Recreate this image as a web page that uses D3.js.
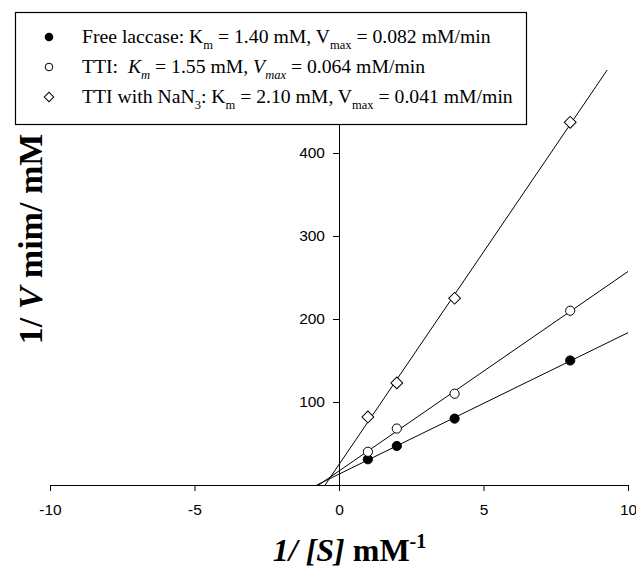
<!DOCTYPE html>
<html>
<head>
<meta charset="utf-8">
<script src="https://cdn.jsdelivr.net/npm/d3@7"></script>
<style>
body{margin:0;background:#fff;}
svg{display:block;}
text{white-space:pre;}
</style>
</head>
<body>
<svg id="chart" width="636" height="567"></svg>
<script>
const invS = [1, 2, 4, 8];
const freeInvV = [31, 47, 80, 150];
const ttiInvV = [40, 68, 110, 210];
const nan3InvV = [82, 123, 225, 437];
const xTicks = [-10, -5, 0, 5, 10];
const yTicks = [100, 200, 300, 400];

const svg = d3.select("#chart");
const x = d3.scaleLinear().domain([-10, 10]).range([50, 628]);
const y = d3.scaleLinear().domain([0, 500]).range([485, 70]);

function fit(xs, ys) {
  const mx = d3.mean(xs), my = d3.mean(ys);
  let sxy = 0, sxx = 0;
  xs.forEach((v, i) => { sxy += (v - mx) * (ys[i] - my); sxx += (v - mx) * (v - mx); });
  const b = sxy / sxx; return { b, a: my - b * mx };
}

const series = [
  { vals: freeInvV, type: "filled" },
  { vals: ttiInvV, type: "open" },
  { vals: nan3InvV, type: "diamond" }
];

svg.append("defs").append("clipPath").attr("id", "clip")
  .append("rect").attr("x", x(-10)).attr("y", y(500)).attr("width", x(10) - x(-10)).attr("height", y(0) - y(500));

// regression lines
series.forEach(s => {
  const f = fit(invS, s.vals);
  const x0 = -f.a / f.b;
  const x1 = 10;
  svg.append("line").attr("clip-path", "url(#clip)")
    .attr("x1", x(x0)).attr("y1", y(0))
    .attr("x2", x(x1)).attr("y2", y(f.a + f.b * x1))
    .attr("stroke", "#000").attr("stroke-width", 1);
});

// axes
const xAxis = d3.axisBottom(x).tickValues(xTicks).tickSize(6).tickSizeOuter(0)
  .tickFormat(d => String(d));
const gx = svg.append("g").attr("transform", `translate(0,${y(0)})`).call(xAxis);
gx.select(".domain").attr("stroke-width", 1.2);
gx.selectAll("text").attr("font-family", "Liberation Sans, Arial, sans-serif").attr("font-size", 15.5)
  .attr("y", 29.5).attr("dy", 0).attr("fill", "#000");

const yAxis = d3.axisLeft(y).tickValues(yTicks).tickSize(6).tickSizeOuter(0);
const gy = svg.append("g").attr("transform", `translate(${x(0)},0)`).call(yAxis);
gy.selectAll("text").attr("font-family", "Liberation Sans, Arial, sans-serif").attr("font-size", 15.5)
  .attr("x", -14).attr("fill", "#000");

// markers
const diamond = d3.symbol().type(d3.symbolSquare).size(70);
series.forEach(s => {
  const g = svg.append("g");
  invS.forEach((xv, i) => {
    const px = x(xv), py = y(s.vals[i]);
    if (s.type === "diamond") {
      g.append("path").attr("d", diamond()).attr("transform", `translate(${px},${py}) rotate(45)`)
        .attr("fill", "#fff").attr("stroke", "#000").attr("stroke-width", 1);
    } else {
      g.append("circle").attr("cx", px).attr("cy", py).attr("r", 4.6)
        .attr("fill", s.type === "filled" ? "#000" : "#fff").attr("stroke", "#000").attr("stroke-width", 1);
    }
  });
});

// legend
const lg = svg.append("g");
lg.append("rect").attr("x", 15.5).attr("y", 12.5).attr("width", 511).attr("height", 112)
  .attr("fill", "#fff").attr("stroke", "#000").attr("stroke-width", 1.2);
const rowsY = [37, 67, 97];
lg.append("circle").attr("cx", 49).attr("cy", rowsY[0]).attr("r", 4.3).attr("fill", "#000");
lg.append("circle").attr("cx", 49).attr("cy", rowsY[1]).attr("r", 3.8).attr("fill", "#fff").attr("stroke", "#000");
lg.append("path").attr("d", d3.symbol().type(d3.symbolSquare).size(45)())
  .attr("transform", `translate(49,${rowsY[2]}) rotate(45)`).attr("fill", "#fff").attr("stroke", "#000");

const legendRows = [
  [["Free laccase: K", ""], ["m", "sub"], [" = 1.40 mM, V", ""], ["max", "sub"], [" = 0.082 mM/min", ""]],
  [["TTI:  ", ""], ["K", "i"], ["m", "subi"], [" = 1.55 mM, ", ""], ["V", "i"], ["max", "subi"], [" = 0.064 mM/min", ""]],
  [["TTI with NaN", ""], ["3", "sub"], [": K", ""], ["m", "sub"], [" = 2.10 mM, V", ""], ["max", "sub"], [" = 0.041 mM/min", ""]]
];
legendRows.forEach((row, r) => {
  const t = lg.append("text").attr("x", 82).attr("y", rowsY[r] + 6)
    .attr("font-family", "Liberation Serif, Times New Roman, serif").attr("font-size", 19.7).attr("fill", "#000");
  let shifted = false;
  row.forEach(([txt, st]) => {
    const ts = t.append("tspan").text(txt);
    if (st.startsWith("sub")) {
      ts.attr("font-size", 12.5).attr("dy", shifted ? 0 : 5.5);
      shifted = true;
    } else if (shifted) {
      ts.attr("dy", -5.5); shifted = false;
    }
    if (st === "i" || st === "subi") ts.attr("font-style", "italic");
  });
});

// axis titles
svg.append("text").attr("transform", `translate(42,239) rotate(-90)`).attr("text-anchor", "middle")
  .attr("font-family", "Liberation Serif, Times New Roman, serif").attr("font-weight", "bold").attr("font-size", 34)
  .attr("fill", "#000")
  .call(t => {
    t.append("tspan").text("1/ ");
    t.append("tspan").text("V").attr("font-style", "italic");
    t.append("tspan").text(" mim/ mM");
  });

svg.append("text").attr("x", 349.5).attr("y", 561).attr("text-anchor", "middle")
  .attr("font-family", "Liberation Serif, Times New Roman, serif").attr("font-weight", "bold").attr("font-size", 32)
  .attr("fill", "#000")
  .call(t => {
    t.append("tspan").text("1/ [S]").attr("font-style", "italic");
    t.append("tspan").text(" mM");
    t.append("tspan").text("-1").attr("font-size", 20).attr("dy", -13);
  });
</script>
</body>
</html>
